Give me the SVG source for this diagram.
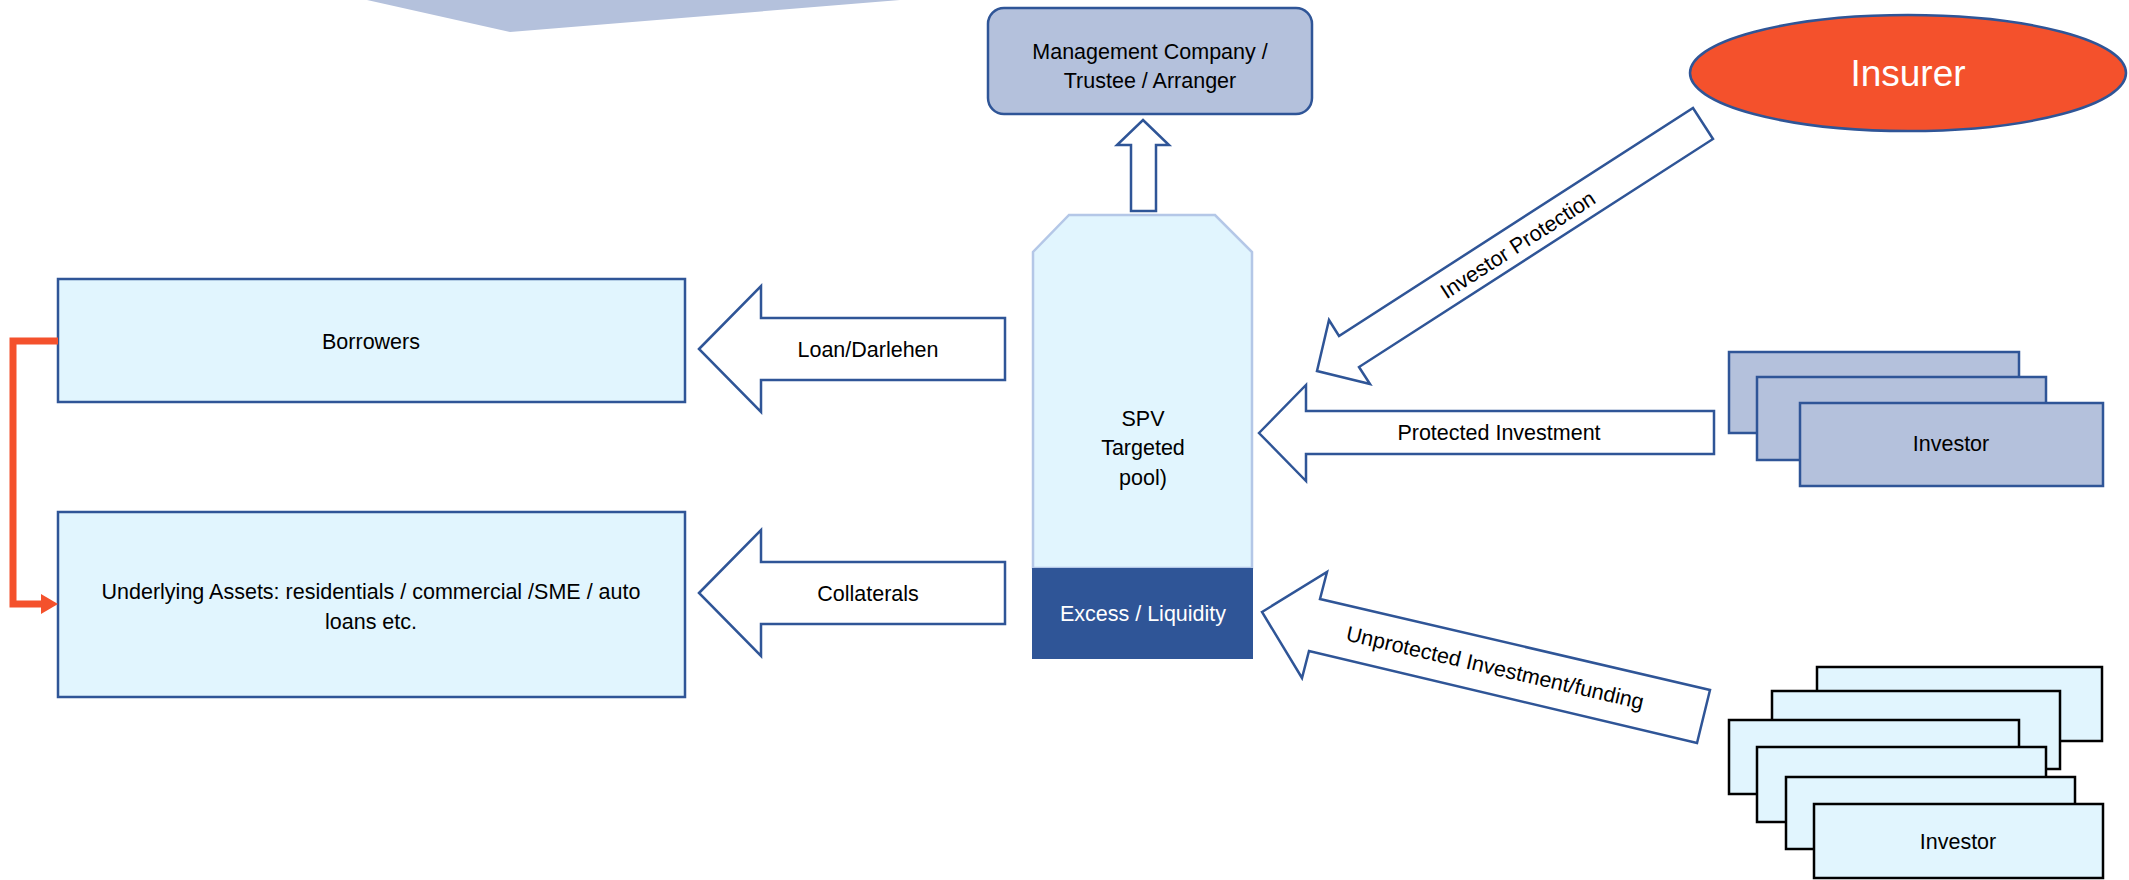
<svg xmlns="http://www.w3.org/2000/svg" width="2129" height="880" viewBox="0 0 2129 880">
<style>
text{font-family:"Liberation Sans",Arial,sans-serif;font-size:21.5px;fill:#000;text-anchor:middle}
.light{fill:#E1F5FE;stroke:#2F5597;stroke-width:2.5}
.grey{fill:#B4C1DC;stroke:#2F5597;stroke-width:2.5}
.blk{fill:#E1F5FE;stroke:#000;stroke-width:2.5}
.arr{fill:#fff;stroke:#2F5597;stroke-width:2.5;stroke-linejoin:miter}
.w{fill:#fff}
</style>
<rect width="2129" height="880" fill="#fff"/>
<g id="top-shape"><polygon points="367,0 510,32 900,0" fill="#B4C1DC"/></g>
<g id="management">
<rect class="grey" x="988" y="8" width="324" height="106" rx="16"/>
<text x="1150" y="59">Management Company /</text>
<text x="1150" y="88">Trustee / Arranger</text>
</g>
<g id="insurer">
<ellipse cx="1908" cy="73" rx="218" ry="58" fill="#F4512C" stroke="#2F5597" stroke-width="2.5"/>
<text x="1908" y="86" class="w" style="font-size:37px">Insurer</text>
</g>
<g id="spv">
<polygon points="1069,215 1215,215 1252,252 1252,568 1033,568 1033,252" fill="#E1F5FE" stroke="#B4C7E7" stroke-width="2.5"/>
<rect x="1032" y="568" width="221" height="91" fill="#2F5597"/>
<text x="1143" y="426">SPV</text>
<text x="1143" y="455">Targeted</text>
<text x="1143" y="485">pool)</text>
<text x="1143" y="621" class="w">Excess / Liquidity</text>
</g>
<g id="borrowers">
<rect class="light" x="58" y="279" width="627" height="123"/>
<text x="371" y="349">Borrowers</text>
</g>
<g id="underlying">
<rect class="light" x="58" y="512" width="627" height="185"/>
<text x="371" y="599">Underlying Assets: residentials / commercial /SME / auto</text>
<text x="371" y="629">loans etc.</text>
</g>
<g id="investors-protected">
<rect class="grey" x="1729" y="352" width="290" height="81"/>
<rect class="grey" x="1757" y="377" width="289" height="83"/>
<rect class="grey" x="1800" y="403" width="303" height="83"/>
<text x="1951" y="451">Investor</text>
</g>
<g id="investors-unprotected">
<rect class="blk" x="1817" y="667" width="285" height="74"/>
<rect class="blk" x="1772" y="691" width="288" height="78"/>
<rect class="blk" x="1729" y="720" width="290" height="74"/>
<rect class="blk" x="1757" y="747" width="289" height="75"/>
<rect class="blk" x="1786" y="777" width="289" height="72"/>
<rect class="blk" x="1814" y="804" width="289" height="74"/>
<text x="1958" y="849">Investor</text>
</g>
<g id="connectors">
<polygon class="arr" points="1143,120 1169,145 1156,145 1156,211 1131,211 1131,145 1117,145"/>
<polygon class="arr" points="699,349 761,286 761,318 1005,318 1005,380 761,380 761,412"/>
<text x="868" y="357">Loan/Darlehen</text>
<polygon class="arr" points="699,593 761,530 761,562 1005,562 1005,624 761,624 761,656"/>
<text x="868" y="601">Collaterals</text>
<polygon class="arr" points="1259,433 1306,385 1306,411 1714,411 1714,454 1306,454 1306,481"/>
<text x="1499" y="440">Protected Investment</text>
<polygon class="arr" points="1317,371 1329,320 1339,336 1693,108 1713,139 1359,367 1370,384"/>
<text transform="translate(1518,245) rotate(-32.8)" y="7">Investor Protection</text>
<polygon class="arr" points="1262,612 1327,572 1320,599 1710,690 1697,743 1309,651 1302,678"/>
<text transform="translate(1495,668) rotate(13.1)" y="7">Unprotected Investment/funding</text>
<path d="M58,341 H13 V604 H44" fill="none" stroke="#F4512C" stroke-width="7"/>
<polygon points="41,594 58,604 41,614" fill="#F4512C"/>
</g>
</svg>
